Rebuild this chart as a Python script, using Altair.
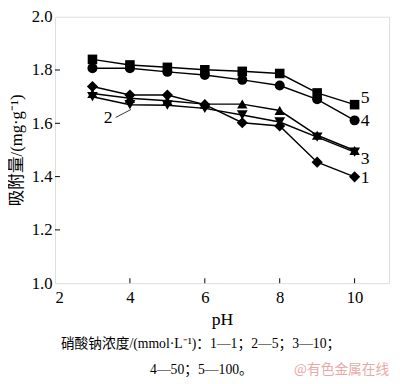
import altair as alt
import pandas as pd

ph = [3, 4, 5, 6, 7, 8, 9, 10]
s1 = [1.738, 1.706, 1.706, 1.670, 1.602, 1.590, 1.454, 1.399]
s2 = [1.700, 1.670, 1.668, 1.656, 1.631, 1.605, 1.548, 1.492]
s3 = [1.712, 1.694, 1.685, 1.672, 1.672, 1.648, 1.555, 1.498]
s4 = [1.807, 1.807, 1.793, 1.781, 1.763, 1.742, 1.690, 1.611]
s5 = [1.840, 1.819, 1.810, 1.801, 1.795, 1.787, 1.714, 1.670]
series_names = ["1", "2", "3", "4", "5"]
shapes = ["diamond", "triangle-down", "triangle-up", "circle", "square"]
marker_sizes = [130, 95, 95, 85, 75]

label_text = ["5", "4", "3", "1", "2"]
label_x = [10.28, 10.28, 10.28, 10.28, 3.42]
label_y = [1.693, 1.607, 1.464, 1.393, 1.618]

x_ticks = [2, 4, 6, 8, 10]
y_ticks = [1.0, 1.2, 1.4, 1.6, 1.8, 2.0]

caption1 = "硝酸钠浓度/(mmol·L⁻¹)：1—1；2—5；3—10；"
caption2 = "4—50；5—100。"
watermark = "@有色金属在线"

SERIF = "Liberation Serif"
MIXED = "Liberation Serif, Noto Sans CJK SC"
CJK = "Noto Sans CJK SC"

rows = []
for name, vals in zip(series_names, [s1, s2, s3, s4, s5]):
    for x, y in zip(ph, vals):
        rows.append({"pH": x, "v": y, "s": name})
df = pd.DataFrame(rows)

W, H = 341, 272
xs = alt.Scale(domain=[2, 10.92], nice=False, zero=False)
ys = alt.Scale(domain=[1.0, 2.0], nice=False, zero=False)

xaxis = alt.Axis(values=x_ticks, ticks=False, domain=False, grid=False, labelFont=SERIF,
                 labelFontSize=17, labelColor="black", labelPadding=7, title="pH",
                 titleFont=SERIF, titleFontSize=18, titleFontWeight="normal",
                 titleColor="black", titlePadding=5)
yaxis = alt.Axis(values=y_ticks, format=".1f", ticks=False, domain=False, grid=False,
                 labelFont=SERIF, labelFontSize=17, labelColor="black", labelPadding=3,
                 title="吸附量/(mg·g⁻¹)", titleFont=MIXED, titleFontSize=17,
                 titleFontWeight="normal", titleColor="black", titlePadding=6)

base = alt.Chart(df)
lines = base.mark_line(color="black", strokeWidth=1.5).encode(
    x=alt.X("pH:Q", scale=xs, axis=xaxis),
    y=alt.Y("v:Q", scale=ys, axis=yaxis),
    detail="s:N",
)
points = base.mark_point(filled=True, color="black", opacity=1).encode(
    x=alt.X("pH:Q", scale=xs),
    y=alt.Y("v:Q", scale=ys),
    shape=alt.Shape("s:N", scale=alt.Scale(domain=series_names, range=shapes), legend=None),
    size=alt.Size("s:N", scale=alt.Scale(domain=series_names, range=marker_sizes), legend=None),
)

lab_df = pd.DataFrame({"t": label_text, "x": label_x, "y": label_y})
labels = alt.Chart(lab_df).mark_text(font=SERIF, fontSize=18, color="black",
                                      align="center", baseline="middle").encode(
    x=alt.X("x:Q", scale=xs), y=alt.Y("y:Q", scale=ys), text="t:N")

leader_df = pd.DataFrame({"x": [3.62], "y": [1.622], "x2": [4.03], "y2": [1.652]})
leader = alt.Chart(leader_df).mark_rule(color="black", strokeWidth=0.8).encode(
    x=alt.X("x:Q", scale=xs), y=alt.Y("y:Q", scale=ys), x2="x2:Q", y2="y2:Q")

xt_df = pd.DataFrame({"x": x_ticks[1:]})
xticks = alt.Chart(xt_df).mark_rule(color="black", strokeWidth=1).encode(
    x=alt.X("x:Q", scale=xs), y=alt.value(H), y2=alt.value(H - 5))
yt_df = pd.DataFrame({"y": y_ticks[1:-1]})
yticks = alt.Chart(yt_df).mark_rule(color="black", strokeWidth=1).encode(
    y=alt.Y("y:Q", scale=ys), x=alt.value(0), x2=alt.value(5))

cap_df = pd.DataFrame({"t": [caption1, caption2], "px": [6, 97], "py": [334, 361]})
caps = alt.Chart(cap_df).mark_text(font=MIXED, fontSize=14, color="black", align="left",
                                    baseline="middle").encode(
    x=alt.X("px:Q", scale=None), y=alt.Y("py:Q", scale=None), text="t:N")
wm_df = pd.DataFrame({"t": [watermark], "px": [244], "py": [361]})
wm = alt.Chart(wm_df).mark_text(font=CJK, fontSize=14, color="#e9a9a9", align="left",
                                 baseline="middle").encode(
    x=alt.X("px:Q", scale=None), y=alt.Y("py:Q", scale=None), text="t:N")

chart = alt.layer(lines, points, labels, leader, xticks, yticks, caps, wm).properties(
    width=W, height=H,
    autosize=alt.AutoSizeParams(type="none"),
    padding={"left": 48, "top": 5, "right": 3, "bottom": 98},
).configure_view(stroke="black", strokeWidth=1).configure(background="white")

chart.save("out.html", embed_options={"renderer": "svg", "actions": False})
